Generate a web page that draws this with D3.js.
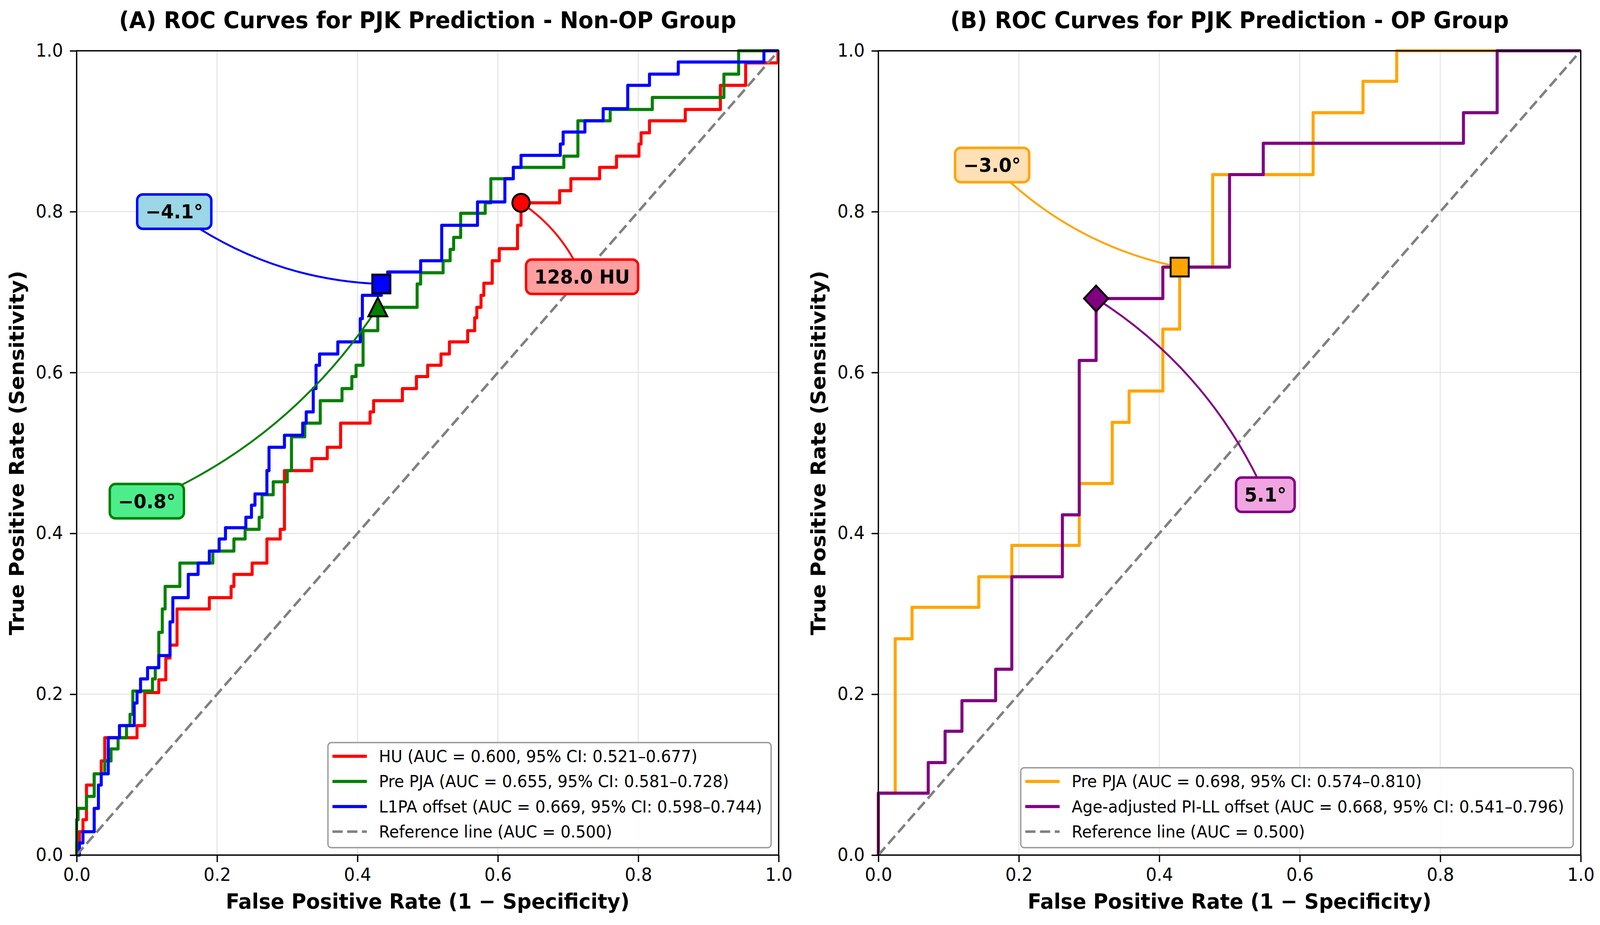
<!DOCTYPE html>
<html>
<head>
<meta charset="utf-8">
<script src="https://cdn.jsdelivr.net/npm/d3@7"></script>
<style>
  html, body { margin: 0; padding: 0; width: 100%; height: 100%; overflow: hidden; background: #fff; }
  svg { display: block; width: 100vw; height: 100vh; }
  text { font-family: "DejaVu Sans", sans-serif; }
</style>
</head>
<body>
<svg id="chart" viewBox="0 0 4237 2368" preserveAspectRatio="none"></svg>
<script>
// ---- data ----
const ticks = [0, 0.2, 0.4, 0.6, 0.8, 1.0];
const titleA = "(A) ROC Curves for PJK Prediction - Non-OP Group";
const titleB = "(B) ROC Curves for PJK Prediction - OP Group";
const xLabel = "False Positive Rate (1 \u2212 Specificity)";
const yLabel = "True Positive Rate (Sensitivity)";

// panel A, non-OP group (corner points at the top of each rise)
const fprHU  = [0, 0, 0.004, 0.009, 0.014, 0.025, 0.035, 0.040, 0.086, 0.097, 0.117, 0.127, 0.133, 0.143, 0.189, 0.220, 0.224, 0.250, 0.271, 0.290, 0.296, 0.335, 0.357, 0.376, 0.418, 0.423, 0.464, 0.484, 0.500, 0.519, 0.531, 0.557, 0.567, 0.570, 0.576, 0.580, 0.592, 0.602, 0.628, 0.633, 0.688, 0.704, 0.745, 0.769, 0.801, 0.804, 0.816, 0.867, 0.917, 0.953, 0.999, 1];
const tprHU  = [0, 0.015, 0.029, 0.044, 0.087, 0.101, 0.117, 0.146, 0.161, 0.202, 0.218, 0.245, 0.261, 0.306, 0.320, 0.334, 0.349, 0.363, 0.393, 0.405, 0.478, 0.493, 0.507, 0.537, 0.551, 0.565, 0.580, 0.595, 0.609, 0.623, 0.638, 0.652, 0.668, 0.681, 0.696, 0.711, 0.739, 0.754, 0.783, 0.811, 0.826, 0.841, 0.855, 0.869, 0.884, 0.898, 0.913, 0.927, 0.957, 0.985, 1, 1];

const fprPjaA = [0, 0, 0.002, 0.014, 0.025, 0.040, 0.049, 0.059, 0.071, 0.076, 0.080, 0.108, 0.112, 0.117, 0.122, 0.126, 0.147, 0.194, 0.224, 0.240, 0.260, 0.264, 0.280, 0.300, 0.306, 0.325, 0.347, 0.378, 0.392, 0.398, 0.408, 0.429, 0.485, 0.490, 0.522, 0.532, 0.537, 0.547, 0.582, 0.590, 0.622, 0.694, 0.714, 0.760, 0.820, 0.922, 0.943, 1];
const tprPjaA = [0, 0.044, 0.058, 0.073, 0.101, 0.117, 0.132, 0.146, 0.161, 0.175, 0.204, 0.219, 0.233, 0.277, 0.306, 0.334, 0.363, 0.378, 0.393, 0.405, 0.420, 0.448, 0.464, 0.478, 0.520, 0.537, 0.565, 0.580, 0.595, 0.609, 0.652, 0.681, 0.710, 0.724, 0.739, 0.753, 0.768, 0.798, 0.811, 0.841, 0.855, 0.869, 0.913, 0.927, 0.942, 0.971, 1, 1];

const fprL1pa = [0, 0.004, 0.009, 0.025, 0.031, 0.035, 0.045, 0.061, 0.082, 0.086, 0.091, 0.101, 0.117, 0.133, 0.137, 0.159, 0.173, 0.189, 0.203, 0.212, 0.241, 0.249, 0.254, 0.271, 0.274, 0.296, 0.322, 0.327, 0.337, 0.341, 0.346, 0.372, 0.404, 0.407, 0.434, 0.443, 0.490, 0.520, 0.571, 0.610, 0.622, 0.633, 0.689, 0.693, 0.724, 0.750, 0.785, 0.816, 0.857, 0.979, 1];
const tprL1pa = [0, 0.015, 0.029, 0.058, 0.087, 0.101, 0.146, 0.161, 0.189, 0.203, 0.219, 0.233, 0.248, 0.290, 0.320, 0.349, 0.363, 0.378, 0.393, 0.407, 0.420, 0.435, 0.449, 0.478, 0.507, 0.522, 0.537, 0.551, 0.580, 0.609, 0.623, 0.638, 0.667, 0.696, 0.710, 0.725, 0.739, 0.783, 0.812, 0.841, 0.855, 0.870, 0.884, 0.899, 0.913, 0.928, 0.957, 0.971, 0.986, 1, 1];

// panel B, OP group
const fprPjaB = [0, 0, 0.024, 0.048, 0.143, 0.190, 0.286, 0.333, 0.357, 0.405, 0.429, 0.476, 0.619, 0.690, 0.738, 1];
const tprPjaB = [0, 0.077, 0.269, 0.308, 0.346, 0.385, 0.462, 0.538, 0.577, 0.654, 0.731, 0.846, 0.923, 0.962, 1, 1];

const fprPill = [0, 0, 0.071, 0.095, 0.119, 0.167, 0.190, 0.262, 0.286, 0.310, 0.405, 0.500, 0.548, 0.833, 0.881, 1];
const tprPill = [0, 0.077, 0.115, 0.154, 0.192, 0.231, 0.346, 0.423, 0.615, 0.692, 0.731, 0.846, 0.885, 0.923, 1, 1];

const legendA = [
  "HU (AUC = 0.600, 95% CI: 0.521\u20130.677)",
  "Pre PJA (AUC = 0.655, 95% CI: 0.581\u20130.728)",
  "L1PA offset (AUC = 0.669, 95% CI: 0.598\u20130.744)"
];
const legendB = [
  "Pre PJA (AUC = 0.698, 95% CI: 0.574\u20130.810)",
  "Age-adjusted PI-LL offset (AUC = 0.668, 95% CI: 0.541\u20130.796)"
];
const refLabel = "Reference line (AUC = 0.500)";

// optimal cut-offs and where their labels sit
const cutFprA = [0.633, 0.429, 0.434];
const cutTprA = [0.811, 0.681, 0.710];
const cutTextA = ["128.0 HU", "\u22120.8\u00b0", "\u22124.1\u00b0"];
const labelXA = [0.720, 0.100, 0.139];
const labelYA = [0.719, 0.440, 0.800];

const cutFprB = [0.429, 0.310];
const cutTprB = [0.731, 0.692];
const cutTextB = ["\u22123.0\u00b0", "5.1\u00b0"];
const labelXB = [0.162, 0.551];
const labelYB = [0.858, 0.448];

// ---- drawing ----
const svg = d3.select("#chart");
svg.append("rect").attr("width", 4237).attr("height", 2368).attr("fill", "#fff");

const TOP = 130, BOTTOM = 2189;
const RAD = 0.15;
const fmt = d3.format(".1f");

function markerPath(type, cx, cy) {
  const p = d3.path();
  if (type === "circle") {
    p.moveTo(cx + 23, cy); p.arc(cx, cy, 23, 0, 2 * Math.PI);
  } else if (type === "square") {
    p.rect(cx - 24, cy - 24, 48, 48);
  } else if (type === "triangle") {
    p.moveTo(cx, cy - 25); p.lineTo(cx + 25, cy + 23); p.lineTo(cx - 25, cy + 23); p.closePath();
  } else {
    p.moveTo(cx, cy - 33); p.lineTo(cx + 32, cy); p.lineTo(cx, cy + 33); p.lineTo(cx - 32, cy); p.closePath();
  }
  return p.toString();
}

function drawPanel(p) {
  const x = d3.scaleLinear().domain([0, 1]).range([p.left, p.right]);
  const y = d3.scaleLinear().domain([0, 1]).range([BOTTOM, TOP]);
  const g = svg.append("g");
  const inner = ticks.slice(1, -1);

  // grid
  g.append("g").selectAll("line").data(inner).join("line")
    .attr("x1", d => x(d)).attr("x2", d => x(d)).attr("y1", TOP).attr("y2", BOTTOM)
    .attr("stroke", "#e6e6e6").attr("stroke-width", 3);
  g.append("g").selectAll("line").data(inner).join("line")
    .attr("y1", d => y(d)).attr("y2", d => y(d)).attr("x1", p.left).attr("x2", p.right)
    .attr("stroke", "#e6e6e6").attr("stroke-width", 3);

  // roc steps
  const step = d3.line().x(d => x(d[0])).y(d => y(d[1])).curve(d3.curveStepAfter);
  p.series.forEach(s => {
    g.append("path").datum(d3.zip(s.fpr, s.tpr)).attr("d", step)
      .attr("fill", "none").attr("stroke", s.color).attr("stroke-width", 8)
      .attr("stroke-linejoin", "round");
  });

  // chance line
  g.append("path").datum([[0, 0], [1, 1]])
    .attr("d", d3.line().x(d => x(d[0])).y(d => y(d[1])))
    .attr("fill", "none").attr("stroke", "#808080").attr("stroke-width", 6.5)
    .attr("stroke-dasharray", "27 12");

  // spines
  g.append("rect").attr("x", p.left).attr("y", TOP)
    .attr("width", p.right - p.left).attr("height", BOTTOM - TOP)
    .attr("fill", "none").attr("stroke", "#000").attr("stroke-width", 3.5);

  // axes
  g.append("g").attr("transform", `translate(0,${BOTTOM})`)
    .call(d3.axisBottom(x).tickValues(ticks).tickFormat(fmt).tickSize(18).tickPadding(16))
    .call(a => {
      a.select(".domain").remove();
      a.selectAll(".tick line").attr("stroke", "#000").attr("stroke-width", 3.5);
      a.selectAll("text").attr("fill", "#000");
    })
    .attr("font-size", 45.5).attr("font-family", "DejaVu Sans, sans-serif");
  g.append("g").attr("transform", `translate(${p.left},0)`)
    .call(d3.axisLeft(y).tickValues(ticks).tickFormat(fmt).tickSize(18).tickPadding(18))
    .call(a => {
      a.select(".domain").remove();
      a.selectAll(".tick line").attr("stroke", "#000").attr("stroke-width", 3.5);
      a.selectAll("text").attr("fill", "#000");
    })
    .attr("font-size", 45.5).attr("font-family", "DejaVu Sans, sans-serif");

  // labels
  const cx = (p.left + p.right) / 2;
  g.append("text").attr("x", cx).attr("y", 72).attr("text-anchor", "middle")
    .attr("font-size", 58.3).attr("font-weight", "bold").text(p.title);
  g.append("text").attr("x", cx).attr("y", 2326).attr("text-anchor", "middle")
    .attr("font-size", 53.3).attr("font-weight", "bold").text(xLabel);
  g.append("text").attr("transform", `translate(${p.left - 140},${(TOP + BOTTOM) / 2}) rotate(-90)`)
    .attr("text-anchor", "middle").attr("font-size", 53.3).attr("font-weight", "bold").text(yLabel);

  // annotation arcs (under markers)
  p.series.forEach(s => {
    const sx = x(s.lx), sy = y(s.ly), ex = x(s.cf), ey = y(s.ct);
    const dx = ex - sx, dy = ey - sy;
    const path = d3.path();
    path.moveTo(sx, sy);
    path.quadraticCurveTo((sx + ex) / 2 - RAD * dy, (sy + ey) / 2 + RAD * dx, ex, ey);
    g.append("path").attr("d", path.toString()).attr("fill", "none")
      .attr("stroke", s.color).attr("stroke-width", 5);
  });

  // markers
  p.series.forEach(s => {
    g.append("path").attr("d", markerPath(s.marker, x(s.cf), y(s.ct)))
      .attr("fill", s.color).attr("stroke", "#000").attr("stroke-width", 5)
      .attr("stroke-linejoin", "miter");
  });

  // label boxes
  p.series.forEach(s => {
    const sx = x(s.lx), sy = y(s.ly);
    const tg = g.append("g");
    const t = tg.append("text").attr("x", sx).attr("y", sy + 17.5)
      .attr("text-anchor", "middle").attr("font-size", 49).attr("font-weight", "bold")
      .text(s.cut);
    const w = t.node().getComputedTextLength() + 44;
    tg.insert("rect", "text").attr("x", sx - w / 2).attr("y", sy - 44)
      .attr("width", w).attr("height", 88).attr("rx", 15)
      .attr("fill", s.box).attr("stroke", s.color).attr("stroke-width", 6.5);
  });

  // legend
  const rows = p.series.map(s => ({ label: s.legend, color: s.color, dash: null }))
    .concat([{ label: refLabel, color: "#808080", dash: "27 12" }]);
  const lg = g.append("g");
  const texts = rows.map(r => lg.append("text").attr("font-size", 42).attr("fill", "#000").text(r.label));
  const maxW = d3.max(texts, t => t.node().getComputedTextLength());
  const lw = 14 + 91 + 30 + maxW + 24;
  const lh = 76 + (rows.length - 1) * 64.3;
  const lx = p.right - 20 - lw, ly = BOTTOM - 19 - lh;
  lg.insert("rect", "text").attr("x", lx).attr("y", ly).attr("width", lw).attr("height", lh)
    .attr("rx", 9).attr("fill", "#fff").attr("fill-opacity", 0.85)
    .attr("stroke", "#999999").attr("stroke-width", 3.5);
  rows.forEach((r, i) => {
    const ry = ly + 35 + i * 64.3;
    lg.append("line").attr("x1", lx + 12).attr("x2", lx + 103).attr("y1", ry).attr("y2", ry)
      .attr("stroke", r.color).attr("stroke-width", r.dash ? 6.5 : 8)
      .attr("stroke-dasharray", r.dash);
    texts[i].attr("x", lx + 135).attr("y", ry + 15);
  });
}

drawPanel({
  left: 203, right: 2062, title: titleA,
  series: [
    { fpr: fprHU, tpr: tprHU, color: "#ff0000", legend: legendA[0], marker: "circle",
      cf: cutFprA[0], ct: cutTprA[0], cut: cutTextA[0], lx: labelXA[0], ly: labelYA[0], box: "#ff9f9f" },
    { fpr: fprPjaA, tpr: tprPjaA, color: "#008000", legend: legendA[1], marker: "triangle",
      cf: cutFprA[1], ct: cutTprA[1], cut: cutTextA[1], lx: labelXA[1], ly: labelYA[1], box: "#4ded8c" },
    { fpr: fprL1pa, tpr: tprL1pa, color: "#0000ff", legend: legendA[2], marker: "square",
      cf: cutFprA[2], ct: cutTprA[2], cut: cutTextA[2], lx: labelXA[2], ly: labelYA[2], box: "#9bd7e6" }
  ]
});

drawPanel({
  left: 2326, right: 4186, title: titleB,
  series: [
    { fpr: fprPjaB, tpr: tprPjaB, color: "#ffa500", legend: legendB[0], marker: "square",
      cf: cutFprB[0], ct: cutTprB[0], cut: cutTextB[0], lx: labelXB[0], ly: labelYB[0], box: "#ffdfb5" },
    { fpr: fprPill, tpr: tprPill, color: "#800080", legend: legendB[1], marker: "diamond",
      cf: cutFprB[1], ct: cutTprB[1], cut: cutTextB[1], lx: labelXB[1], ly: labelYB[1], box: "#f0a5e0" }
  ]
});
</script>
</body>
</html>
